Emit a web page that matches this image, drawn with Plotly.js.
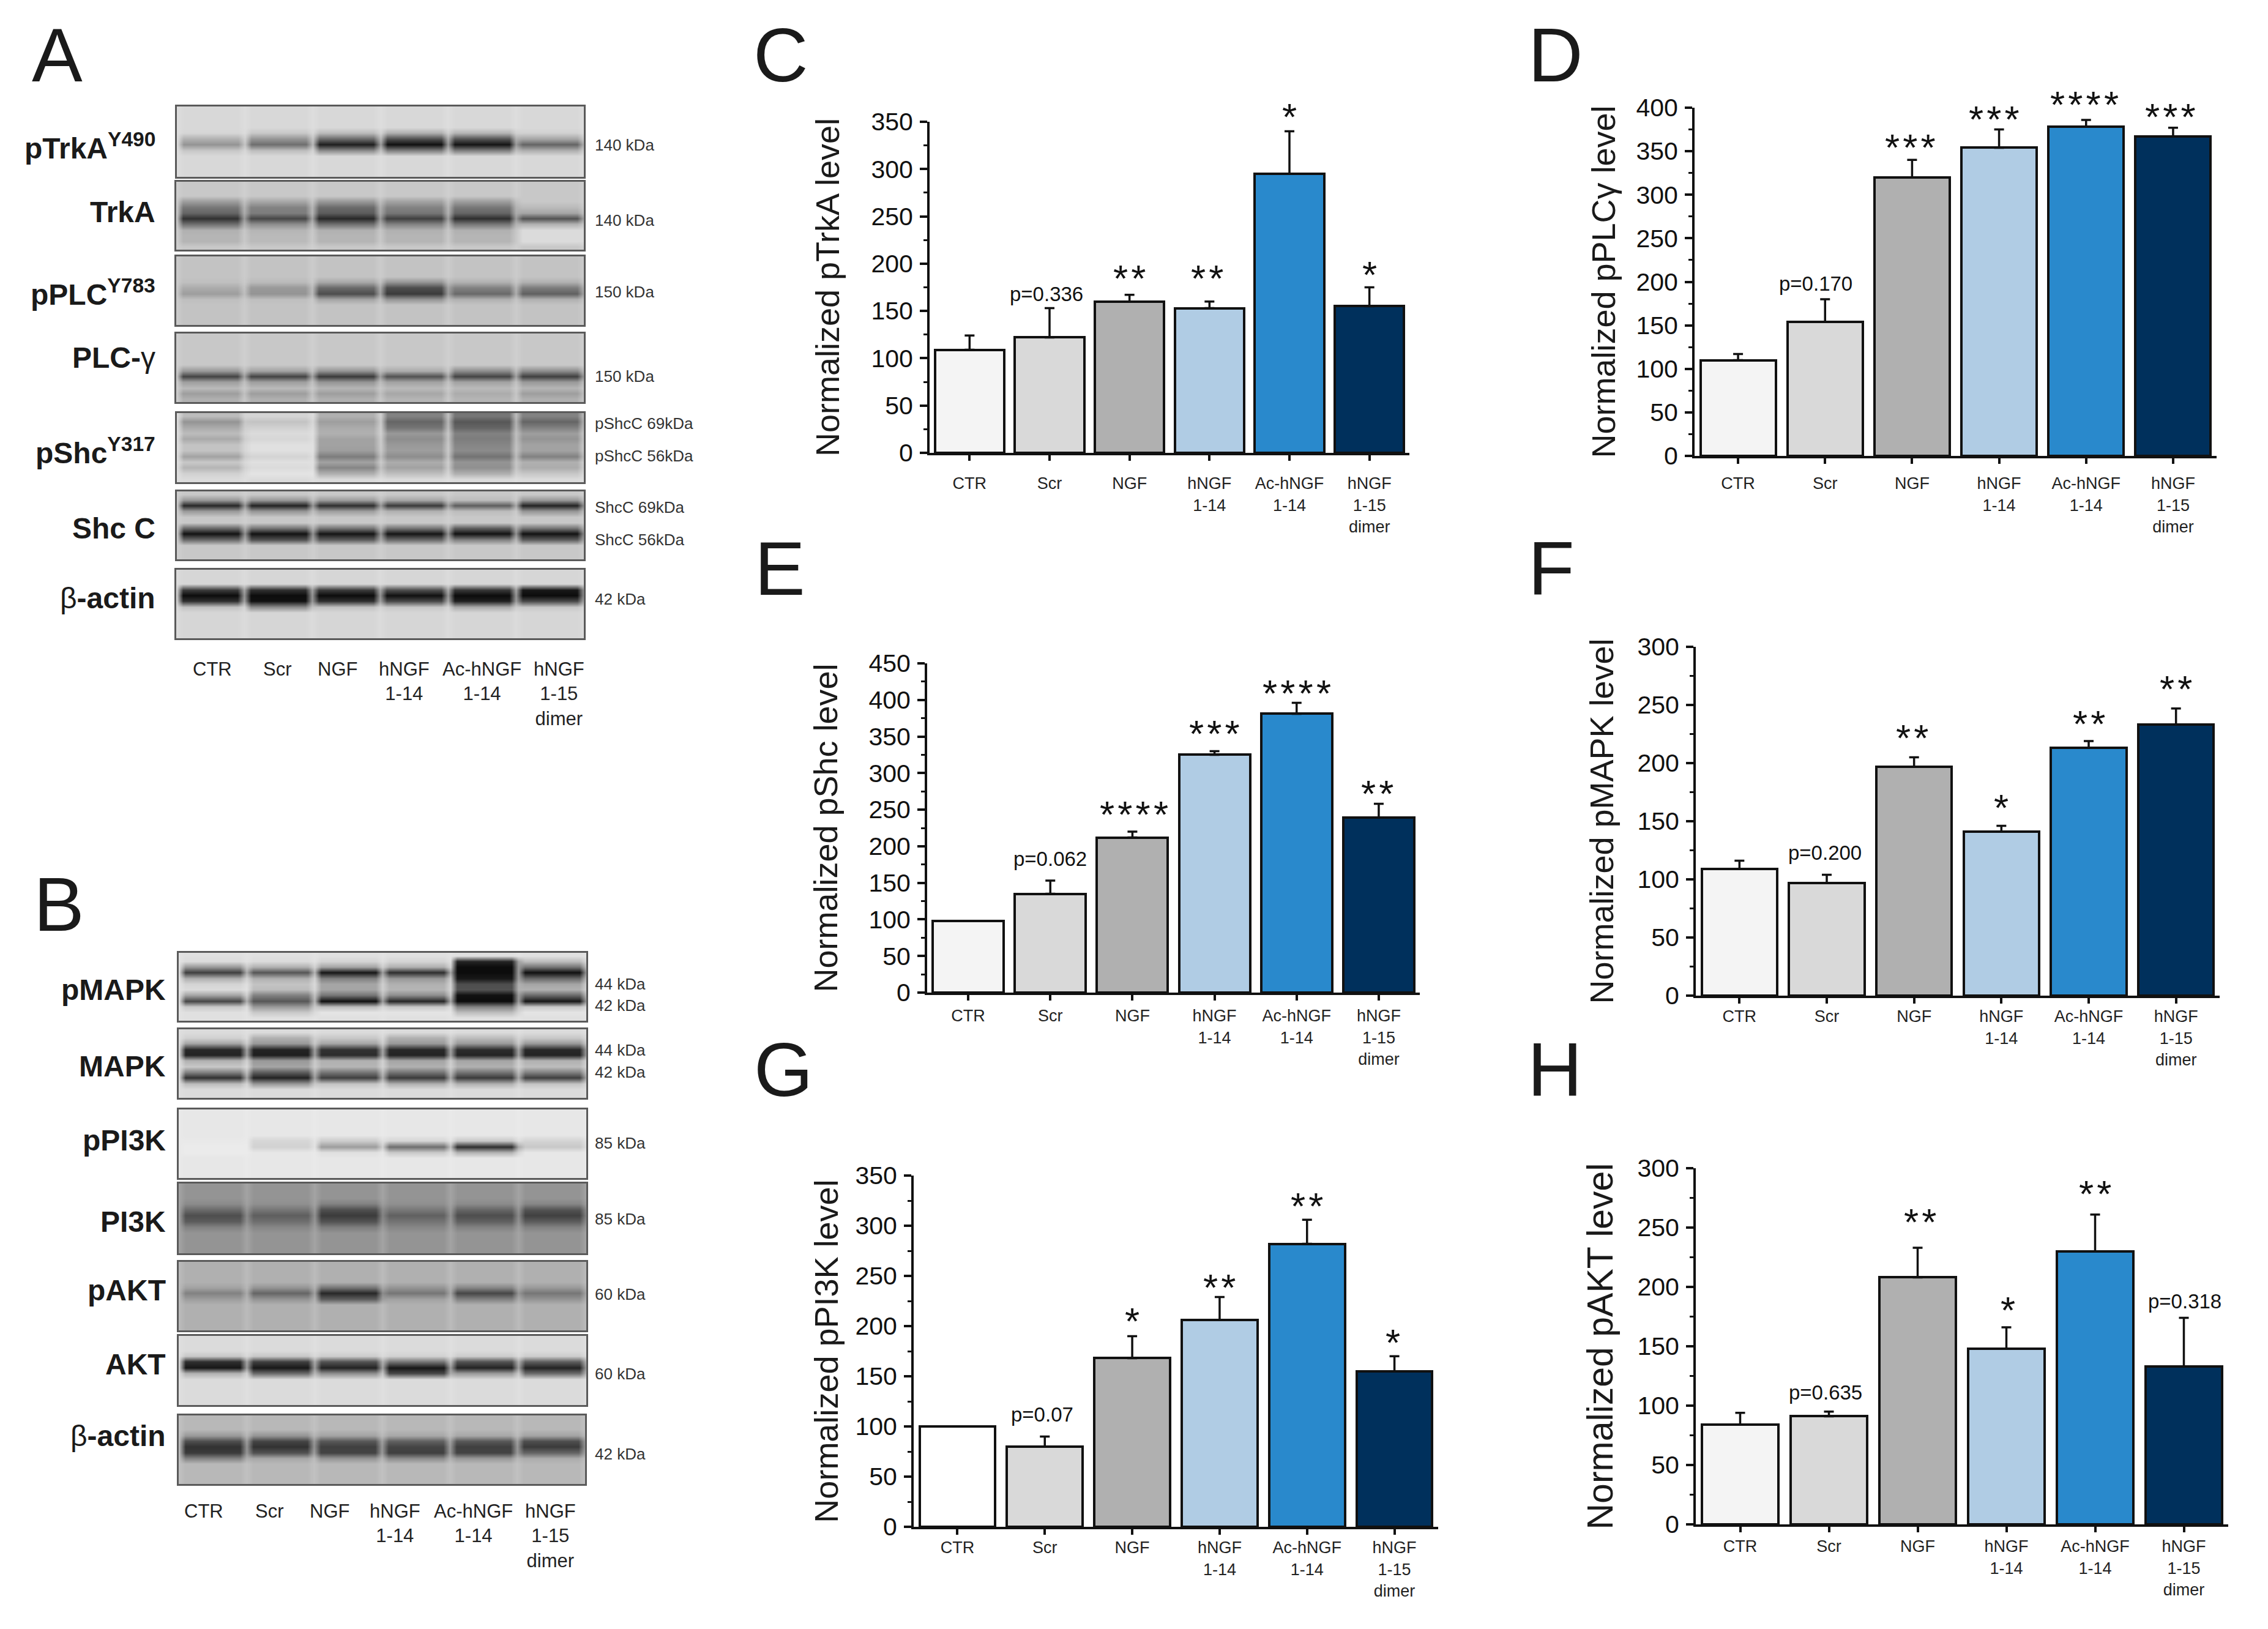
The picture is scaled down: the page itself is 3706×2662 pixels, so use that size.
<!DOCTYPE html>
<html>
<head>
<meta charset="utf-8">
<script src="https://cdn.plot.ly/plotly-3.0.1.min.js"></script>
<style>body{margin:0;background:#fff}</style>
</head>
<body>
<div id="chart" style="width:3706px;height:2662px"></div>
<script>
// bar chart categories
var categories = ['CTR', 'Scr', 'NGF', 'hNGF<br>1-14', 'Ac-hNGF<br>1-14', 'hNGF<br>1-15<br>dimer'];

// bar values and upward error
var pTrkA_vals = [109, 122, 160, 153, 295, 155];
var pTrkA_err = [15, 31, 7, 7, 45, 20];
var pTrkA_sig = ['', 'p=0.336', '**', '**', '*', '*'];
var pTrkA_sigY = [null, 168, 191, 191, 362, 195];

var pPLC_vals = [110, 154, 320, 354, 378, 367];
var pPLC_err = [7, 26, 20, 21, 8, 10];
var pPLC_sig = ['', 'p=0.170', '***', '***', '****', '***'];
var pPLC_sigY = [null, 198, 362, 394, 411, 397];

var pShc_vals = [98, 135, 212, 325, 381, 239];
var pShc_err = [0, 18, 8, 5, 15, 19];
var pShc_sig = ['', 'p=0.062', '****', '***', '****', '**'];
var pShc_sigY = [null, 183, 252, 363, 418, 281];

var pMAPK_vals = [109, 97, 197, 141, 213, 233];
var pMAPK_err = [7, 7, 8, 5, 6, 14];
var pMAPK_sig = ['', 'p=0.200', '**', '*', '**', '**'];
var pMAPK_sigY = [null, 123, 227, 167, 239, 269];

var pPI3K_vals = [100, 80, 168, 206, 282, 155];
var pPI3K_err = [0, 10, 22, 23, 24, 15];
var pPI3K_sig = ['', 'p=0.07', '*', '**', '**', '*'];
var pPI3K_sigY = [null, 112, 211, 245, 326, 190];

var pAKT_vals = [84, 91, 208, 148, 230, 133];
var pAKT_err = [10, 4, 25, 18, 31, 41];
var pAKT_sig = ['', 'p=0.635', '**', '*', '**', 'p=0.318'];
var pAKT_sigY = [null, 111, 260, 186, 284, 188];

// blot darkness (0 white, 1 black), rows are [row 0-11, six lanes], other rows stay at background
var blot_pTrkA = [[4,.14,.2,.25,.3,.28,.16],[5,.3,.42,.6,.72,.7,.35],[6,.42,.58,.92,.98,.96,.62],[7,.2,.24,.45,.5,.5,.3]];
var blot_TrkA = [[3,.38,.34,.4,.36,.38,.2],[4,.55,.5,.6,.5,.55,.26],[5,.62,.52,.66,.55,.62,.35],[6,.84,.75,.88,.78,.85,.7],[7,.58,.45,.58,.5,.55,.3],[8,.3,.28,.3,.3,.3,.12],[9,.28,.26,.28,.28,.28,.12],[10,.28,.26,.28,.28,.28,.12]];
var blot_pPLC = [[4,.24,.26,.34,.42,.3,.3],[5,.32,.4,.6,.72,.5,.52],[6,.38,.42,.72,.8,.6,.64],[7,.24,.24,.35,.42,.3,.3]];
var blot_PLC = [[6,.4,.36,.42,.32,.45,.45],[7,.76,.76,.8,.7,.76,.78],[8,.38,.38,.42,.36,.36,.4],[9,.26,.26,.28,.26,.26,.28],[10,.38,.38,.38,.34,.32,.38],[11,.3,.3,.3,.28,.28,.3]];
var blot_pShc = [[0,.25,.15,.3,.5,.55,.5],[1,.42,.22,.38,.62,.68,.62],[2,.32,.16,.32,.55,.62,.5],[3,.25,.12,.3,.4,.5,.38],[4,.33,.14,.36,.45,.52,.42],[5,.22,.1,.36,.4,.48,.36],[6,.22,.1,.38,.38,.46,.36],[7,.36,.15,.52,.45,.56,.5],[8,.2,.1,.36,.32,.42,.3],[9,.28,.12,.48,.36,.44,.32],[10,.16,.08,.3,.24,.3,.2]];
var blot_ShcC = [[1,.4,.4,.38,.34,.25,.4],[2,.88,.9,.85,.8,.65,.9],[3,.4,.42,.38,.3,.25,.42],[6,.6,.55,.55,.55,.65,.55],[7,.97,.97,.96,.96,.97,.97],[8,.6,.7,.65,.6,.5,.65]];
var blot_actin = [[3,.8,.85,.8,.72,.82,.95],[4,1,1,1,.98,1,1],[5,.85,.98,.85,.75,.92,.75],[6,.22,.45,.22,.2,.32,.2]];
var blot_pMAPK = [[1,.12,.12,.15,.15,.9,.25],[2,.4,.3,.35,.3,1,.55],[3,.78,.68,.95,.85,1,.98],[4,.3,.3,.5,.4,.95,.6],[5,.15,.22,.35,.3,.72,.35],[6,.12,.25,.35,.28,.7,.3],[7,.35,.5,.55,.45,.98,.6],[8,.75,.68,.98,.88,1,.95],[9,.2,.4,.25,.2,.5,.2],[10,.1,.2,.08,.08,.25,.08]];
var blot_MAPK = [[1,.16,.3,.2,.3,.25,.2],[2,.35,.4,.35,.4,.4,.4],[3,.88,.9,.84,.88,.86,.88],[4,.9,.92,.86,.9,.9,.9],[5,.3,.4,.3,.35,.35,.3],[6,.2,.35,.28,.3,.3,.25],[7,.5,.65,.55,.55,.55,.5],[8,.84,.9,.78,.8,.8,.78],[9,.25,.4,.22,.3,.3,.22]];
var blot_pPI3K = [[5,.06,.14,.18,.14,.2,.15],[6,.05,.16,.38,.58,.85,.2],[7,.05,.07,.1,.2,.3,.07]];
var blot_PI3K = [[3,.46,.44,.5,.44,.46,.48],[4,.6,.55,.72,.54,.62,.7],[5,.72,.65,.8,.64,.72,.78],[6,.66,.58,.7,.56,.64,.66],[7,.5,.48,.52,.48,.5,.5]];
var blot_pAKT = [[4,.36,.42,.55,.42,.48,.4],[5,.5,.62,.88,.55,.75,.55],[6,.38,.42,.65,.36,.5,.42]];
var blot_AKT = [[3,.2,.2,.18,.16,.18,.18],[4,.85,.78,.7,.55,.7,.65],[5,.95,.95,.9,.95,.9,.9],[6,.3,.6,.45,.75,.4,.6]];
var blot_actin2 = [[3,.4,.42,.36,.34,.34,.36],[4,.72,.76,.68,.64,.68,.72],[5,.84,.84,.78,.76,.78,.8],[6,.8,.7,.76,.78,.76,.62],[7,.5,.34,.42,.46,.4,.32]];

// blot text
var blotNamesA = ['<b>pTrkA<sup>Y490</sup></b>', '<b>TrkA</b>', '<b>pPLC<sup>Y783</sup></b>', '<b>PLC-</b>γ', '<b>pShc<sup>Y317</sup></b>', '<b>Shc C</b>', 'β<b>-actin</b>'];
var blotNamesB = ['<b>pMAPK</b>', '<b>MAPK</b>', '<b>pPI3K</b>', '<b>PI3K</b>', '<b>pAKT</b>', '<b>AKT</b>', 'β<b>-actin</b>'];
var kdaTextA = ['140 kDa', '140 kDa', '150 kDa', '150 kDa', 'pShcC 69kDa', 'pShcC 56kDa', 'ShcC 69kDa', 'ShcC 56kDa', '42 kDa'];
var kdaTextB = ['44 kDa', '42 kDa', '44 kDa', '42 kDa', '85 kDa', '85 kDa', '60 kDa', '60 kDa', '42 kDa'];

// page layout in pixels
var W = 3706, H = 2662;
var FONT = '"Liberation Sans", Arial, sans-serif';
var barColors = ['#f4f4f4', '#d9d9d9', '#b0b0b0', '#b0cce4', '#2989cc', '#00305c'];

var panels = [
    {name: 'pTrkA', vals: pTrkA_vals, err: pTrkA_err, sig: pTrkA_sig, sigY: pTrkA_sigY, l: 1519, r: 2303, y0: 740, yTop: 199, max: 350, standoff: 35, xStandoff: 14, titleSize: 54, shift: [0, -.04, 0, -.03, 0, 0]},
    {name: 'pPLCγ', vals: pPLC_vals, err: pPLC_err, sig: pPLC_sig, sigY: pPLC_sigY, l: 2769, r: 3622, y0: 745, yTop: 176, max: 400, standoff: 17, xStandoff: 9, titleSize: 54, shift: [0, -.11, -.02, -.06, -.02, -.03]},
    {name: 'pShc', vals: pShc_vals, err: pShc_err, sig: pShc_sig, sigY: pShc_sigY, l: 1515, r: 2320, y0: 1622, yTop: 1084, max: 450, standoff: 34, xStandoff: 2, titleSize: 54, shift: [0, 0, .02, 0, 0, -.02]},
    {name: 'pMAPK', vals: pMAPK_vals, err: pMAPK_err, sig: pMAPK_sig, sigY: pMAPK_sigY, l: 2771, r: 3627, y0: 1627, yTop: 1057, max: 300, standoff: 22, xStandoff: -2, titleSize: 54, shift: [0, -.02, -.02, 0, 0, 0]},
    {name: 'pPI3K', vals: pPI3K_vals, err: pPI3K_err, sig: pPI3K_sig, sigY: pPI3K_sigY, l: 1493, r: 2350, y0: 2495, yTop: 1921, max: 350, standoff: 11, xStandoff: -2, titleSize: 54, shift: [0, -.03, 0, 0, 0, -.02]},
    {name: 'pAKT', vals: pAKT_vals, err: pAKT_err, sig: pAKT_sig, sigY: pAKT_sigY, l: 2771, r: 3641, y0: 2491, yTop: 1909, max: 300, standoff: 22, xStandoff: 0, titleSize: 59, shift: [0, -.04, .03, .02, 0, .01]}
];

var blots = [
    {rows: blot_pTrkA, bg: .13, l: 289, r: 954, t: 174, b: 289},
    {rows: blot_TrkA, bg: .2, l: 288, r: 954, t: 297, b: 408},
    {rows: blot_pPLC, bg: .22, l: 288, r: 954, t: 419, b: 531},
    {rows: blot_PLC, bg: .2, l: 288, r: 954, t: 545, b: 657},
    {rows: blot_pShc, bg: .12, l: 289, r: 954, t: 675, b: 788},
    {rows: blot_ShcC, bg: .2, l: 289, r: 954, t: 803, b: 914},
    {rows: blot_actin, bg: .14, l: 288, r: 954, t: 931, b: 1043},
    {rows: blot_pMAPK, bg: .1, l: 292, r: 958, t: 1557, b: 1668},
    {rows: blot_MAPK, bg: .12, l: 292, r: 958, t: 1682, b: 1794},
    {rows: blot_pPI3K, bg: .07, l: 292, r: 958, t: 1813, b: 1925},
    {rows: blot_PI3K, bg: .42, l: 292, r: 958, t: 1934, b: 2048},
    {rows: blot_pAKT, bg: .3, l: 292, r: 958, t: 2062, b: 2174},
    {rows: blot_AKT, bg: .12, l: 292, r: 958, t: 2183, b: 2296},
    {rows: blot_actin2, bg: .27, l: 292, r: 956, t: 2313, b: 2425}
];

var data = [];
var annotations = [];
var layout = {
    width: W, height: H,
    margin: {l: 0, r: 0, t: 0, b: 0},
    paper_bgcolor: 'white', plot_bgcolor: 'white',
    showlegend: false,
    font: {family: FONT, color: '#1a1a1a'},
    bargap: 0
};

function addText(text, x, y, size, anchor, color) {
    annotations.push({
        xref: 'paper', yref: 'paper',
        x: x / W, y: 1 - y / H,
        text: text,
        showarrow: false,
        xanchor: anchor || 'center', yanchor: 'middle',
        font: {family: FONT, size: size, color: color || '#1a1a1a'}
    });
}

// bar panels
panels.forEach(function(p, i) {
    var n = i + 1;
    var xs = [0, 1, 2, 3, 4, 5];
    var colors = barColors.slice();
    if (p.name == 'pPI3K') colors[0] = '#ffffff';
    var pxPerUnit = (p.y0 - p.yTop) / p.max;

    data.push({
        type: 'bar', x: xs, y: p.vals, width: .865,
        xaxis: 'x' + n, yaxis: 'y' + n,
        marker: {color: colors, line: {color: '#111', width: 4}},
        error_y: {type: 'data', symmetric: false, array: p.err, arrayminus: [0, 0, 0, 0, 0, 0], color: '#111', thickness: 3.5, width: 8}
    });

    // stars and p values. annotations vanish above the axis range so those go on yshift
    p.sig.forEach(function(s, k) {
        if (!s) return;
        var isP = s.charAt(0) == 'p';
        var yVal = Math.min(p.sigY[k], p.max);
        annotations.push({
            xref: 'x' + n, yref: 'y' + n,
            x: k + p.shift[k], y: yVal,
            yshift: (p.sigY[k] - yVal) * pxPerUnit - (isP ? 0 : 10),
            text: isP ? s : s.split('').join('\u200a'),
            showarrow: false, xanchor: 'center', yanchor: 'middle',
            font: {family: FONT, size: isP ? 33 : 62, color: '#111'}
        });
    });

    layout['xaxis' + n] = {
        domain: [p.l / W, p.r / W], anchor: 'y' + n, range: [-.5, 5.5],
        tickvals: xs, ticktext: categories,
        ticks: 'outside', ticklen: 9, tickwidth: 3.5, tickcolor: '#111',
        showline: true, linecolor: '#111', linewidth: 4, showgrid: false, zeroline: false,
        ticklabelstandoff: p.xStandoff,
        tickfont: {family: FONT, size: 27, color: '#222'}
    };
    layout['yaxis' + n] = {
        domain: [1 - p.y0 / H, 1 - p.yTop / H], anchor: 'x' + n, range: [0, p.max],
        dtick: 50, tick0: 0,
        ticks: 'outside', ticklen: 12, tickwidth: 3.5, tickcolor: '#111',
        minor: {dtick: 25, ticks: 'outside', ticklen: 6, tickwidth: 3, tickcolor: '#111', showgrid: false},
        showline: true, linecolor: '#111', linewidth: 4, showgrid: false, zeroline: false,
        ticklabelstandoff: 3,
        tickfont: {family: FONT, size: 41, color: '#111'},
        title: {text: 'Normalized ' + p.name + ' level', standoff: p.standoff, font: {family: FONT, size: p.titleSize, color: '#1a1a1a'}}
    };
});

// blots as heatmaps, lanes are 0-5 with pale gaps between them
blots.forEach(function(b, i) {
    var n = panels.length + i + 1;
    var xCols = [-.5];
    for (var lane = 0; lane < 6; lane++) {
        xCols.push(lane - .4, lane + .4);
        xCols.push(lane + .5);
    }
    var yRows = [];
    var z = [];
    for (var r = 0; r < 12; r++) {
        yRows.push(r);
        var found = b.rows.filter(function(row) { return row[0] == r; })[0];
        var line = [b.bg * .85];
        for (var c = 0; c < 6; c++) {
            var v = found ? found[c + 1] : b.bg;
            line.push(v, v, Math.min(v, b.bg * .85 + (v - b.bg) * .35));
        }
        z.push(line);
    }
    data.push({
        type: 'heatmap', x: xCols, y: yRows, z: z, zmin: 0, zmax: 1, zsmooth: 'best',
        colorscale: [[0, '#f7f7f7'], [1, '#0c0c0c']], showscale: false, hoverinfo: 'skip',
        xaxis: 'x' + n, yaxis: 'y' + n
    });
    layout['xaxis' + n] = {
        domain: [b.l / W, b.r / W], anchor: 'y' + n, range: [-.5, 5.5],
        showticklabels: false, ticks: '', showgrid: false, zeroline: false,
        showline: true, mirror: true, linecolor: '#5a5a5a', linewidth: 3
    };
    layout['yaxis' + n] = {
        domain: [1 - b.b / H, 1 - b.t / H], anchor: 'x' + n, range: [11.5, -.5],
        showticklabels: false, ticks: '', showgrid: false, zeroline: false,
        showline: true, mirror: true, linecolor: '#5a5a5a', linewidth: 3
    };
});

// panel letters
var letters = ['A', 'B', 'C', 'D', 'E', 'F', 'G', 'H'];
var letterX = [93, 96, 1276, 2542, 1274, 2535, 1280, 2541];
var letterY = [90, 1478, 90, 90, 929, 929, 1748, 1748];
letters.forEach(function(t, i) { addText(t, letterX[i], letterY[i], 124, 'center', '#1a1a1a'); });

// blot names and kDa marks
var nameYA = [239, 347, 478, 584, 737, 863, 977];
var nameYB = [1617, 1742, 1863, 1996, 2108, 2229, 2346];
blotNamesA.forEach(function(t, i) { addText(t, 256, nameYA[i], 48, 'right'); });
blotNamesB.forEach(function(t, i) { addText(t, 273, nameYB[i], 48, 'right'); });
var kdaYA = [237, 360, 477, 615, 692, 745, 829, 882, 979];
var kdaYB = [1608, 1643, 1716, 1752, 1868, 1992, 2115, 2245, 2376];
kdaTextA.forEach(function(t, i) { addText(t, 970, kdaYA[i], 26, 'left', '#333'); });
kdaTextB.forEach(function(t, i) { addText(t, 970, kdaYB[i], 26, 'left', '#333'); });

// lane labels under the blots
var laneXA = [347, 453, 551, 660, 787, 913];
var laneXB = [333, 440, 538, 645, 773, 899];
categories.forEach(function(t, i) {
    annotations.push({xref: 'paper', yref: 'paper', x: laneXA[i] / W, y: 1 - 1074 / H, text: t, showarrow: false, xanchor: 'center', yanchor: 'top', font: {family: FONT, size: 31, color: '#222'}});
    annotations.push({xref: 'paper', yref: 'paper', x: laneXB[i] / W, y: 1 - 2450 / H, text: t, showarrow: false, xanchor: 'center', yanchor: 'top', font: {family: FONT, size: 31, color: '#222'}});
});

layout.annotations = annotations;

//Create the chart
Plotly.newPlot('chart', data, layout, {displayModeBar: false, responsive: false});
</script>
</body>
</html>
